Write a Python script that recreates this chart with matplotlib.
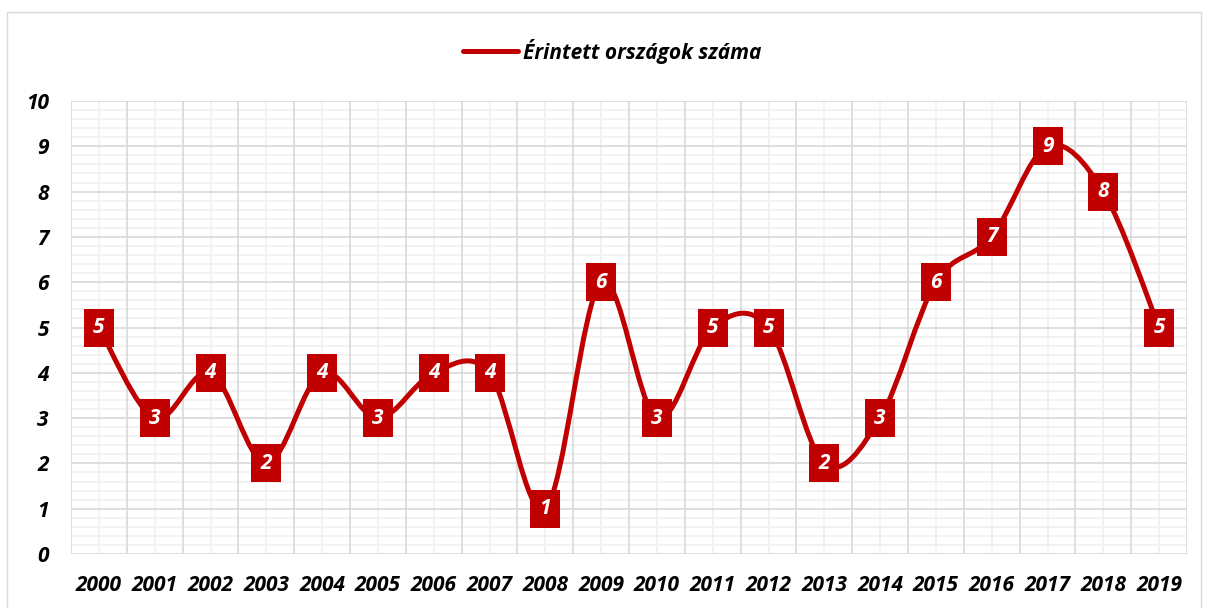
import matplotlib
matplotlib.use("Agg")
import matplotlib.pyplot as plt
import numpy as np
from matplotlib.path import Path
from matplotlib.patches import PathPatch, Rectangle
from matplotlib.lines import Line2D
from matplotlib.ticker import MultipleLocator

years = ["2000", "2001", "2002", "2003", "2004", "2005", "2006", "2007", "2008", "2009",
         "2010", "2011", "2012", "2013", "2014", "2015", "2016", "2017", "2018", "2019"]
values = [5, 3, 4, 2, 4, 3, 4, 4, 1, 6, 3, 5, 5, 2, 3, 6, 7, 9, 8, 5]
series_name = "Érintett országok száma"

RED = "#C00000"
FONT = ["Open Sans", "DejaVu Sans"]
plt.rcParams["font.family"] = FONT

fig = plt.figure(figsize=(12.09, 6.08), dpi=100)
ax = fig.add_axes([71 / 1209, 1 - 554 / 608, (1187 - 71) / 1209, (554 - 101) / 608])

n = len(values)
x = np.arange(n, dtype=float)
y = np.array(values, dtype=float)

# Excel-like smoothed line (Catmull-Rom Bezier)
verts = [(x[0], y[0])]
codes = [Path.MOVETO]
for i in range(n - 1):
    p0 = np.array([x[max(i - 1, 0)], y[max(i - 1, 0)]])
    p1 = np.array([x[i], y[i]])
    p2 = np.array([x[i + 1], y[i + 1]])
    p3 = np.array([x[min(i + 2, n - 1)], y[min(i + 2, n - 1)]])
    c1 = p1 + (p2 - p0) / 6.0
    c2 = p2 - (p3 - p1) / 6.0
    verts += [tuple(c1), tuple(c2), tuple(p2)]
    codes += [Path.CURVE4] * 3
patch = PathPatch(Path(verts, codes), facecolor="none", edgecolor=RED, lw=3.6,
                  capstyle="round", joinstyle="round", zorder=3)
ax.add_patch(patch)

# label boxes
w, h = 30 / 39 / 2, 0.5
box = Path([(-w, -h), (w, -h), (w, h), (-w, h), (-w, -h)],
           [Path.MOVETO, Path.LINETO, Path.LINETO, Path.LINETO, Path.CLOSEPOLY])
ax.plot(x, y, linestyle="none", marker=box, markersize=28, markerfacecolor=RED,
        markeredgecolor=RED, markeredgewidth=0, zorder=4)
for xi, yi in zip(x, y):
    ax.text(xi, yi, f"{int(yi)}", ha="center", va="center", color="white",
            fontsize=15, fontweight="bold", fontstyle="italic", zorder=5)

ax.set_xlim(-0.5, n - 0.5)
ax.set_ylim(0, 10)
ax.set_xticks(x)
ax.set_xticklabels(years)
ax.set_yticks(range(0, 11))
ax.yaxis.set_minor_locator(MultipleLocator(0.2))
ax.xaxis.set_minor_locator(MultipleLocator(1.0))
ax.tick_params(axis="both", which="both", length=0)
ax.tick_params(axis="y", pad=16, labelsize=15)
ax.tick_params(axis="x", pad=15, labelsize=15)
for lab in ax.get_xticklabels() + ax.get_yticklabels():
    lab.set_fontweight("bold")
    lab.set_fontstyle("italic")

# gridlines
for k in range(n + 1):
    ax.axvline(k - 0.5, color="#D9D9D9", lw=1.2, zorder=1)
for k in range(n):
    ax.axvline(k, color="#F0F0F0", lw=1.2, zorder=0.5)
for v in np.arange(0, 10.01, 0.2):
    if abs(v - round(v)) < 1e-6:
        ax.axhline(v, color="#D9D9D9", lw=1.2, zorder=1)
    else:
        ax.axhline(v, color="#F0F0F0", lw=1.2, zorder=0.5)
for s in ax.spines.values():
    s.set_visible(False)

# legend
handle = Line2D([], [], color=RED, lw=3.6, solid_capstyle="round")
leg = fig.legend([handle], [series_name], loc="center", bbox_to_anchor=(612 / 1209, 1 - 51 / 608),
                 frameon=False, prop={"family": FONT, "weight": "bold", "style": "italic", "size": 15},
                 handlelength=2.64, handletextpad=0.25)

# outer chart border
fig.patches.append(Rectangle((7 / 1209, -0.01), (1201 - 7) / 1209, 1 - 12 / 608 + 0.01,
                             transform=fig.transFigure, fill=False, edgecolor="#D9D9D9", lw=1))

fig.savefig("out.png", dpi=100)
